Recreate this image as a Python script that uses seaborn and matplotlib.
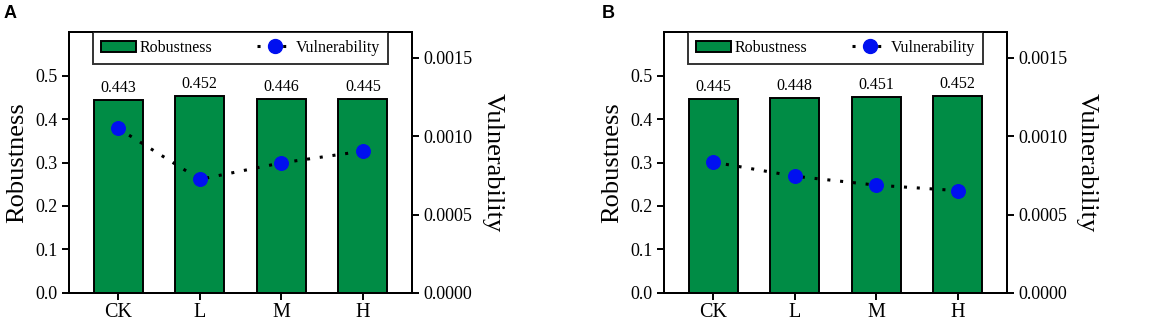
import numpy as np
import matplotlib
matplotlib.use("Agg")
import matplotlib.pyplot as plt
import seaborn as sns
from matplotlib.patches import Patch
from matplotlib.lines import Line2D


# -------------------------
# Data
# -------------------------

categories = ["CK", "L", "M", "H"]

robust_a = [0.443, 0.452, 0.446, 0.445]
vuln_a = [0.00105, 0.000725, 0.00083, 0.000905]

robust_b = [0.445, 0.448, 0.451, 0.452]
vuln_b = [0.000835, 0.000745, 0.000688, 0.000653]

panel_letters = ["A", "B"]


# -------------------------
# Style
# -------------------------

sns.set_style("ticks")
plt.rcParams['font.family'] = ['Liberation Serif', 'DejaVu Serif']
plt.rcParams['axes.linewidth'] = 1.4
plt.rcParams['text.color'] = 'black'
plt.rcParams['axes.labelcolor'] = 'black'
plt.rcParams['xtick.color'] = 'black'
plt.rcParams['ytick.color'] = 'black'
plt.rcParams['axes.edgecolor'] = 'black'

bar_color = "#008C45"
dot_color = "#0010F0"

fig = plt.figure(figsize=(11.7, 3.25), dpi=100)

panel_pos = [
    [0.0592, 0.0985, 0.2928, 0.803],
    [0.5678, 0.0985, 0.2926, 0.803],
]

panels = [(robust_a, vuln_a), (robust_b, vuln_b)]

for i, (robust, vuln) in enumerate(panels):

    ax = fig.add_axes(panel_pos[i])

    sns.barplot(
        x=categories,
        y=robust,
        ax=ax,
        color=bar_color,
        width=0.6,
        edgecolor="black",
        linewidth=1.4,
        saturation=1,
    )

    ax.bar_label(ax.containers[0], fmt="%.3f", padding=3, fontsize=11.5)

    ax.set_xlim(-0.6, 3.6)
    ax.set_ylim(0, 0.6)
    ax.set_yticks([0.0, 0.1, 0.2, 0.3, 0.4, 0.5])
    ax.set_yticklabels([f"{v:.1f}" for v in [0.0, 0.1, 0.2, 0.3, 0.4, 0.5]])
    ax.set_ylabel("Robustness", fontsize=19, labelpad=5)
    ax.tick_params(axis="both", direction="out", length=5, width=1.4,
                   labelsize=13)
    ax.tick_params(axis="x", labelsize=14.5, pad=2)

    for spine in ax.spines.values():
        spine.set_visible(True)
        spine.set_color("black")

    ax2 = ax.twinx()

    sns.lineplot(
        x=np.arange(len(categories)),
        y=vuln,
        ax=ax2,
        color="black",
        linewidth=2.2,
        linestyle=(0, (1, 3.2)),
        marker="o",
        markersize=10,
        markerfacecolor=dot_color,
        markeredgecolor=dot_color,
    )

    ax2.set_xlim(-0.6, 3.6)
    ax2.set_ylim(0, 0.001665)
    ax2.set_yticks([0.0, 0.0005, 0.0010, 0.0015])
    ax2.set_yticklabels(["0.0000", "0.0005", "0.0010", "0.0015"])
    ax2.set_ylabel("Vulnerability", fontsize=19, rotation=270, labelpad=22)
    ax2.tick_params(axis="y", direction="out", length=5, width=1.4,
                    labelsize=13)

    handles = [
        Patch(facecolor=bar_color, edgecolor="black", linewidth=1.4,
              label="Robustness"),
        Line2D([0], [0], color="black", linewidth=2.2,
               linestyle=(0, (1, 3.2)), marker="o", markersize=10,
               markerfacecolor=dot_color, markeredgecolor=dot_color,
               label="Vulnerability"),
    ]

    leg = ax2.legend(
        handles=handles,
        loc="upper center",
        ncol=2,
        fontsize=11.5,
        frameon=True,
        fancybox=False,
        edgecolor="black",
        borderaxespad=0,
        handlelength=2.2,
        handletextpad=0.2,
        columnspacing=2.8,
        borderpad=0.5,
    )
    leg.get_frame().set_linewidth(1.4)

    x_letter = 0.003 if i == 0 else 0.514
    fig.text(x_letter, 0.985, panel_letters[i], fontsize=13,
             fontweight="bold", family="Liberation Sans", va="top")


plt.savefig("out.png", dpi=100)
plt.close()
